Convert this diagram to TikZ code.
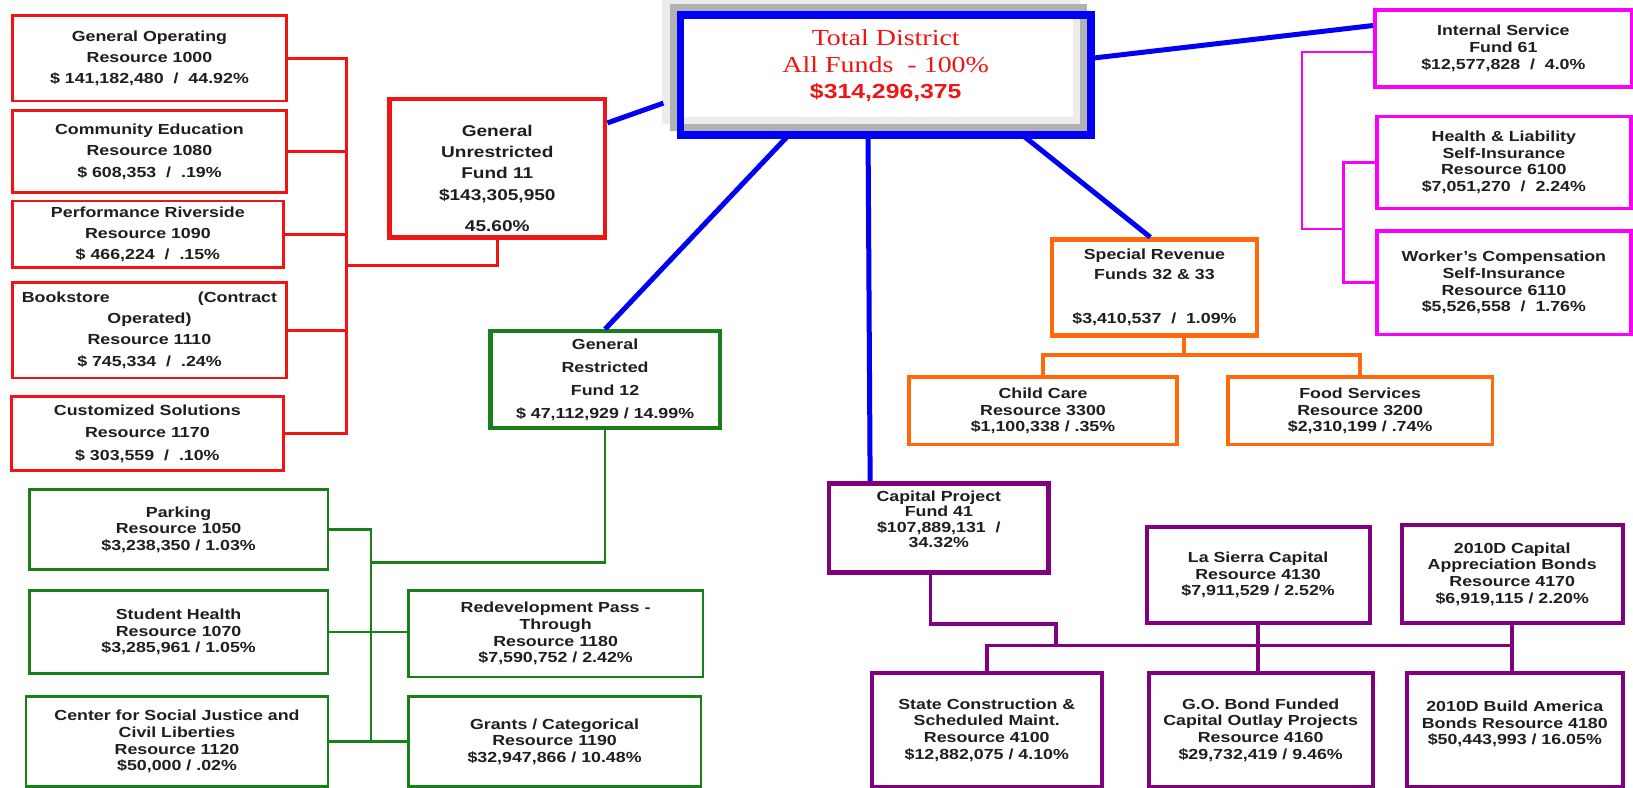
\documentclass[tikz,border=0pt]{standalone}
\usepackage{fontspec}
\setmainfont[FakeStretch=1.22]{Liberation Sans}
\newfontfamily\titlefont[FakeStretch=1.22]{Liberation Serif}
\definecolor{fundred}{RGB}{240,20,20}
\definecolor{fundgreen}{RGB}{25,128,25}
\definecolor{fundblue}{RGB}{0,0,245}
\definecolor{fundpink}{RGB}{250,0,250}
\definecolor{fundorange}{RGB}{255,105,10}
\definecolor{fundpurple}{RGB}{128,0,128}
\definecolor{fundtext}{RGB}{30,30,30}

\begin{document}
\begin{tikzpicture}[x=1pt,y=-1pt]
			\tikzstyle{every node}+=[inner sep=0pt, align=center, text=fundtext]
			\tikzstyle{fund}=[draw, fill=white, rectangle, font=\fontsize{14}{16}\selectfont\bfseries]
			\tikzstyle{redfund}=[fund, draw=fundred, line width=2.6pt, font=\fontsize{14}{20.5}\selectfont\bfseries]
			\tikzstyle{greenfund}=[fund, draw=fundgreen, line width=2.6pt]
			\tikzstyle{orangefund}=[fund, draw=fundorange, line width=3.4pt]
			\tikzstyle{purplefund}=[fund, draw=fundpurple, line width=3.8pt]
			\tikzstyle{pinkfund}=[fund, draw=fundpink, line width=3.4pt]
			\tikzstyle{redline}=[fundred, line width=2.6pt]
			\tikzstyle{greenline}=[fundgreen, line width=2.4pt]
			\tikzstyle{orangeline}=[fundorange, line width=3.4pt]
			\tikzstyle{purpleline}=[fundpurple, line width=3.4pt]
			\tikzstyle{pinkline}=[fundpink, line width=2.5pt]
			\tikzstyle{blueline}=[fundblue, line width=4.8pt]
			\useasboundingbox (0,0) rectangle (1568,756);
			\node [redfund, minimum width=263, minimum height=82] (genop) at (143.5,56) {General Operating\\Resource 1000\\\$ 141,182,480~ /~ 44.92\%};
			\node [redfund, minimum width=263, minimum height=79] (comed) at (143.5,145.5) {Community Education\\Resource 1080\\\$ 608,353~ /~ .19\%};
			\node [redfund, minimum width=260, minimum height=64] (perfriv) at (142,225) {Performance Riverside\\Resource 1090\\\$ 466,224~ /~ .15\%};
			\node [redfund, minimum width=263, minimum height=92] (bookst) at (143.5,317) {\makebox[245pt]{Bookstore\hfill(Contract}\\Operated)\\Resource 1110\\\$ 745,334~ /~ .24\%};
			\node [redfund, minimum width=261, minimum height=71, font=\fontsize{14}{22}\selectfont\bfseries] (custsol) at (141.5,416.5) {Customized Solutions\\Resource 1170\\\$ 303,559~ /~ .10\%};
			\node [redfund, line width=4.5pt, minimum width=207, minimum height=133, font=\fontsize{15}{20.5}\selectfont\bfseries] (unrestr) at (477.5,161.5) {\rule{0pt}{30pt}General\\Unrestricted\\Fund 11\\\$143,305,950\\[9.5pt]45.60\%};
			\node [fill=white, outer sep=0pt, minimum width=394, minimum height=115, text=fundred, font=\titlefont\fontsize{22}{25}\selectfont] (total) at (850.5,72) {Total District\\All Funds~ - 100\%\\{\rmfamily\bfseries\fontsize{19.5}{24}\selectfont\$314,296,375}\rule[-21pt]{0pt}{0pt}};
			\draw [gray!15, line width=7pt] ([shift={(-14pt,14pt)}]total.south west) rectangle ([shift={(-14pt,14pt)}]total.north east);
			\draw [gray!60, line width=7pt] ([shift={(-7pt,7pt)}]total.south west) rectangle ([shift={(-7pt,7pt)}]total.north east);
			\draw [fundblue, line width=7pt] (total.south west) rectangle (total.north east);
			\node [greenfund, line width=4pt, minimum width=220, minimum height=93, font=\fontsize{14}{22}\selectfont\bfseries] (restr) at (581,364.5) {General\\Restricted\\Fund 12\\\$ 47,112,929 / 14.99\%};
			\node [greenfund, minimum width=287, minimum height=77] (parking) at (171.5,508.5) {Parking\\Resource 1050\\\$3,238,350 / 1.03\%};
			\node [greenfund, minimum width=287, minimum height=80] (sthealth) at (171.5,607) {Student Health\\Resource 1070\\\$3,285,961 / 1.05\%};
			\node [greenfund, minimum width=290, minimum height=86] (socjust) at (170,712) {Center for Social Justice and\\Civil Liberties\\Resource 1120\\\$50,000 / .02\%};
			\node [greenfund, minimum width=283, minimum height=83] (redev) at (533.5,608.5) {Redevelopment Pass -\\Through\\Resource 1180\\\$7,590,752 / 2.42\%};
			\node [greenfund, minimum width=281, minimum height=86] (grants) at (532.5,712) {Grants / Categorical\\Resource 1190\\\$32,947,866 / 10.48\%};
			\node [orangefund, line width=4.5pt, minimum width=197, minimum height=92, font=\fontsize{14}{19}\selectfont\bfseries] (specrev) at (1108.5,276) {Special Revenue\\Funds 32 \& 33\\[23pt]\$3,410,537~ /~ 1.09\%};
			\node [orangefund, minimum width=257, minimum height=65] (childcare) at (1001.5,394.5) {Child Care\\Resource 3300\\\$1,100,338 / .35\%};
			\node [orangefund, minimum width=254, minimum height=65] (food) at (1306,394.5) {Food Services\\Resource 3200\\\$2,310,199 / .74\%};
			\node [purplefund, line width=4.5pt, minimum width=211, minimum height=86, font=\fontsize{14}{15}\selectfont\bfseries] (capproj) at (901.5,507) {Capital Project\\Fund 41\\\$107,889,131~ /\\34.32\%\rule[-17pt]{0pt}{0pt}};
			\node [purplefund, minimum width=214, minimum height=92] (lasierra) at (1208,552) {La Sierra Capital\\Resource 4130\\\$7,911,529 / 2.52\%};
			\node [purplefund, minimum width=212, minimum height=94] (capapp) at (1452,551) {2010D Capital\\Appreciation Bonds\\Resource 4170\\\$6,919,115 / 2.20\%};
			\node [purplefund, minimum width=221, minimum height=110] (statecon) at (947.5,701) {State Construction \&\\Scheduled Maint.\\Resource 4100\\\$12,882,075 / 4.10\%};
			\node [purplefund, minimum width=215, minimum height=110] (gobond) at (1210.5,701) {G.O. Bond Funded\\Capital Outlay Projects\\Resource 4160\\\$29,732,419 / 9.46\%};
			\node [purplefund, minimum width=207, minimum height=110] (buildam) at (1454.5,701) {2010D Build America\\Bonds Resource 4180\\\$50,443,993 / 16.05\%\rule[-14pt]{0pt}{0pt}};
			\node [pinkfund, minimum width=247, minimum height=74] (intserv) at (1443.5,46.5) {Internal Service\\Fund 61\\\$12,577,828~ /~ 4.0\%};
			\node [pinkfund, minimum width=244, minimum height=88] (health) at (1444,156) {Health \& Liability\\Self-Insurance\\Resource 6100\\\$7,051,270~ /~ 2.24\%};
			\node [pinkfund, minimum width=244, minimum height=99] (workers) at (1444,271.5) {Worker{\char"0027}s Compensation\\Self-Insurance\\Resource 6110\\\$5,526,558~ /~ 1.76\%};
			\draw [blueline] ([yshift=43.5pt]unrestr.east) -- ([xshift=-16.5pt,yshift=-27pt]total.west);
			\draw [blueline] ([xshift=-93pt]total.south) -- (restr.north);
			\draw [blueline] ([xshift=-17pt]total.south) -- ([xshift=-66pt]capproj.north);
			\draw [blueline] ([xshift=131pt]total.south) -- ([xshift=-4pt]specrev.north);
			\draw [blueline] ([yshift=16pt]total.east) -- ([yshift=22pt]intserv.west);
			\coordinate (rj) at (333,255);
			\draw [redline] (genop.east) -| (rj) -| (unrestr.south);
			\draw [redline] (custsol.east) -| (rj);
			\draw [redline] (comed.east) -- (comed.east -| rj);
			\draw [redline] (perfriv.east) -- (perfriv.east -| rj);
			\draw [redline] (bookst.east) -- (bookst.east -| rj);
			\coordinate (gj) at (356,540);
			\draw [greenline] (restr.south) |- (gj);
			\draw [greenline] (parking.east) -| (gj) -- (gj |- socjust.east);
			\draw [greenline] (sthealth.east) -- (sthealth.east -| redev.west);
			\draw [greenline] (socjust.east) -- (socjust.east -| grants.west);
			\coordinate (oj) at (1137,341);
			\draw [orangeline] ([xshift=28.5pt]specrev.south) -- (oj);
			\draw [orangeline] (childcare.north) |- (oj) -| (food.north);
			\coordinate (pk) at (1014,599);
			\coordinate (pj) at (1014,620);
			\draw [purpleline] ([xshift=-8pt]capproj.south) |- (pk) -- (pj);
			\draw [purpleline] (statecon.north) |- (pj -| capapp.south);
			\draw [purpleline] (capapp.south) -- (capapp.south |- buildam.north);
			\draw [purpleline] (lasierra.south) -- (lasierra.south |- gobond.north);
			\coordinate (mj) at (1250,220);
			\coordinate (mk) at (1290,220);
			\draw [pinkline] ([yshift=-3.5pt]intserv.west) -| (mj) -- (mk);
			\draw [pinkline] (health.west) -| (mk) |- (workers.west);
\end{tikzpicture}
\end{document}
